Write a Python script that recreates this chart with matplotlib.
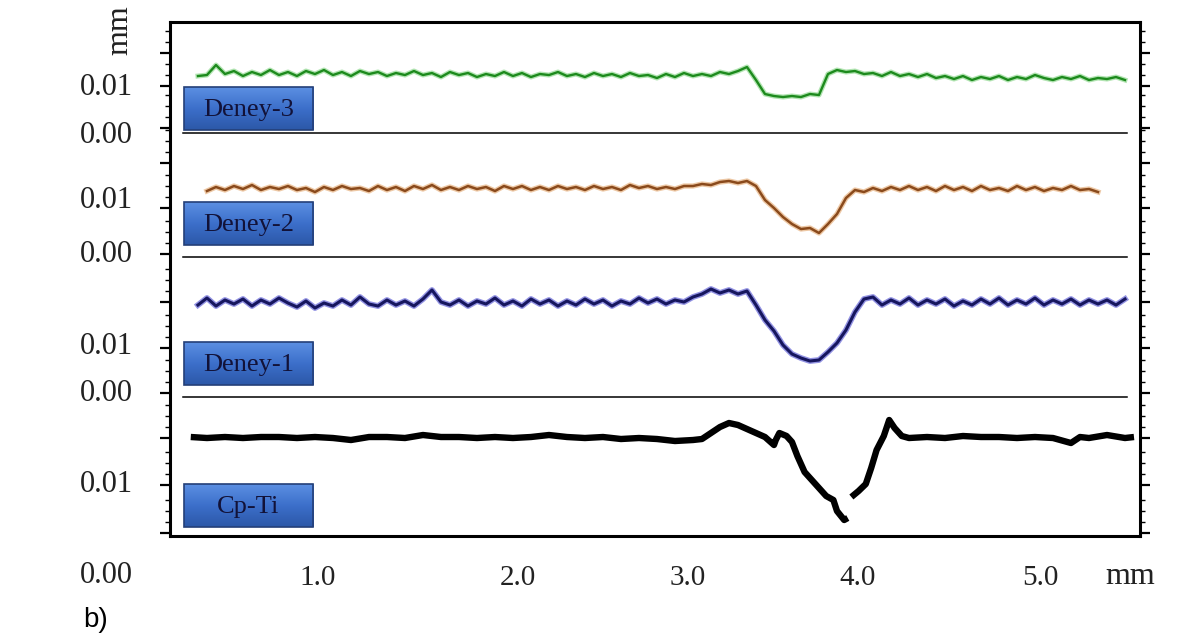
"""
Surface profiles of the wear tracks (Cp-Ti, Deney-1..3), stacked
"""

import numpy as np
import matplotlib
matplotlib.use("Agg")
import matplotlib.pyplot as plt
from matplotlib.patches import Rectangle

# shared x positions (mm) for the three coated samples
x_grid = [0.30, 0.35, 0.40, 0.45, 0.50, 0.55, 0.60, 0.65, 0.70, 0.75,
          0.80, 0.85, 0.90, 0.95, 1.00, 1.05, 1.10, 1.15, 1.20, 1.25,
          1.30, 1.35, 1.40, 1.45, 1.50, 1.55, 1.60, 1.65, 1.70, 1.75,
          1.80, 1.85, 1.90, 1.95, 2.00, 2.05, 2.10, 2.15, 2.20, 2.25,
          2.30, 2.35, 2.40, 2.45, 2.50, 2.55, 2.60, 2.65, 2.70, 2.75,
          2.80, 2.85, 2.90, 2.95, 3.00, 3.05, 3.10, 3.15, 3.20, 3.25,
          3.30, 3.35, 3.40, 3.45, 3.50, 3.55, 3.60, 3.65, 3.70, 3.75,
          3.80, 3.85, 3.90, 3.95, 4.00, 4.05, 4.10, 4.15, 4.20, 4.25,
          4.30, 4.35, 4.40, 4.45, 4.50, 4.55, 4.60, 4.65, 4.70, 4.75,
          4.80, 4.85, 4.90, 4.95, 5.00, 5.05, 5.10, 5.15, 5.20, 5.25,
          5.30, 5.35, 5.40, 5.45, 5.50, 5.55]

nan = float("nan")

# stacked profile heights (chart units)
deney3 = [nan, 4.60, 4.61, 4.71, 4.62, 4.65, 4.60, 4.64, 4.61, 4.66,
          4.61, 4.64, 4.60, 4.65, 4.62, 4.66, 4.61, 4.64, 4.60, 4.65,
          4.62, 4.64, 4.60, 4.63, 4.61, 4.65, 4.61, 4.63, 4.59, 4.64,
          4.61, 4.63, 4.59, 4.62, 4.60, 4.64, 4.60, 4.63, 4.59, 4.62,
          4.61, 4.64, 4.60, 4.62, 4.59, 4.63, 4.60, 4.62, 4.59, 4.63,
          4.60, 4.61, 4.58, 4.62, 4.59, 4.63, 4.60, 4.62, 4.60, 4.64,
          4.62, 4.65, 4.69, 4.56, 4.42, 4.40, 4.39, 4.40, 4.39, 4.42,
          4.41, 4.62, 4.66, 4.64, 4.65, 4.62, 4.63, 4.60, 4.64, 4.60,
          4.62, 4.59, 4.62, 4.58, 4.60, 4.57, 4.60, 4.56, 4.59, 4.57,
          4.60, 4.56, 4.59, 4.57, 4.61, 4.58, 4.56, 4.59, 4.57, 4.60,
          4.56, 4.58, 4.57, 4.59, 4.56, nan]

deney2 = [nan, nan, 3.45, 3.49, 3.46, 3.50, 3.47, 3.51, 3.46, 3.49,
          3.47, 3.50, 3.46, 3.48, 3.44, 3.49, 3.46, 3.50, 3.47, 3.48,
          3.45, 3.50, 3.46, 3.49, 3.45, 3.50, 3.47, 3.51, 3.46, 3.49,
          3.46, 3.50, 3.47, 3.49, 3.45, 3.50, 3.47, 3.50, 3.46, 3.49,
          3.46, 3.50, 3.47, 3.49, 3.46, 3.50, 3.47, 3.49, 3.46, 3.51,
          3.48, 3.50, 3.47, 3.49, 3.47, 3.50, 3.50, 3.52, 3.51, 3.54,
          3.55, 3.53, 3.55, 3.50, 3.36, 3.28, 3.19, 3.12, 3.07, 3.08,
          3.03, 3.12, 3.22, 3.38, 3.46, 3.44, 3.48, 3.45, 3.49, 3.46,
          3.50, 3.46, 3.49, 3.45, 3.50, 3.46, 3.49, 3.45, 3.50, 3.46,
          3.48, 3.45, 3.50, 3.46, 3.49, 3.45, 3.48, 3.46, 3.50, 3.46,
          3.47, 3.44, nan, nan, nan, nan]

deney1 = [nan, 2.31, 2.38, 2.30, 2.36, 2.32, 2.37, 2.30, 2.36, 2.32,
          2.38, 2.33, 2.29, 2.35, 2.28, 2.33, 2.30, 2.36, 2.31, 2.39,
          2.32, 2.30, 2.36, 2.31, 2.35, 2.30, 2.37, 2.46, 2.34, 2.31,
          2.36, 2.30, 2.35, 2.32, 2.38, 2.31, 2.35, 2.30, 2.37, 2.32,
          2.36, 2.30, 2.35, 2.31, 2.37, 2.32, 2.36, 2.30, 2.35, 2.32,
          2.38, 2.33, 2.37, 2.32, 2.36, 2.34, 2.39, 2.42, 2.47, 2.43,
          2.46, 2.42, 2.45, 2.31, 2.16, 2.05, 1.91, 1.82, 1.78, 1.75,
          1.76, 1.84, 1.93, 2.06, 2.24, 2.37, 2.39, 2.31, 2.36, 2.32,
          2.38, 2.31, 2.36, 2.32, 2.37, 2.30, 2.35, 2.31, 2.37, 2.32,
          2.38, 2.31, 2.36, 2.32, 2.38, 2.31, 2.36, 2.32, 2.37, 2.31,
          2.36, 2.32, 2.36, 2.31, 2.37, nan]

cpti_x = [0.31, 0.40, 0.50, 0.60, 0.70, 0.80, 0.90, 1.00, 1.10, 1.20,
          1.30, 1.40, 1.50, 1.60, 1.70, 1.80, 1.90, 2.00, 2.10, 2.20,
          2.30, 2.40, 2.50, 2.60, 2.70, 2.80, 2.90, 3.00, 3.10, 3.15,
          3.20, 3.25, 3.30, 3.35, 3.40, 3.45, 3.50, 3.55, 3.56, 3.58,
          3.62, 3.65, 3.68, 3.72, 3.76, 3.80, 3.84, 3.88, 3.90, 3.94,
          3.96, 3.97, 3.98, 4.02, 4.06, 4.09, 4.12, 4.16, 4.19, 4.22,
          4.26, 4.30, 4.40, 4.50, 4.60, 4.70, 4.80, 4.90, 5.00, 5.10,
          5.20, 5.25, 5.30, 5.40, 5.50, 5.55]
cpti = [0.99, 0.98, 0.99, 0.98, 0.99, 0.99, 0.98, 0.99, 0.98, 0.96,
        0.99, 0.99, 0.98, 1.01, 0.99, 0.99, 0.98, 0.99, 0.98, 0.99,
        1.01, 0.99, 0.98, 0.99, 0.97, 0.98, 0.97, 0.95, 0.96, 0.97,
        1.03, 1.09, 1.13, 1.11, 1.07, 1.03, 0.99, 0.91, 0.96, 1.03,
        1.00, 0.94, 0.80, 0.64, 0.56, 0.48, 0.40, 0.36, 0.25, 0.16,
        0.18, nan, 0.39, 0.45, 0.52, 0.68, 0.86, 1.00, 1.16, 1.08,
        1.00, 0.98, 0.99, 0.98, 1.00, 0.99, 0.99, 0.98, 0.99, 0.98,
        0.93, 0.99, 0.98, 1.01, 0.98, 0.99]

sample_names = ["Deney-3", "Deney-2", "Deney-1", "Cp-Ti"]
separators = [4.03, 2.79, 1.39]

ytick_text = ["0.01", "0.00", "0.01", "0.00", "0.01", "0.00", "0.01", "0.00"]
ytick_text_pos = [4.49, 4.01, 3.36, 2.82, 1.90, 1.43, 0.52, -0.39]
xtick_text = ["1.0", "2.0", "3.0", "4.0", "5.0"]
xtick_text_pos = [1.017, 2.128, 3.072, 4.017, 5.028]
major_ticks = [4.83, 4.50, 4.08, 3.73, 3.28, 2.82, 2.34, 1.88, 1.43, 0.98, 0.51, 0.03]

fig = plt.figure(figsize=(11.86, 6.42), dpi=100)
ax = fig.add_axes([0.1433, 0.1651, 0.8179, 0.8006])

serif = ["Liberation Serif", "DejaVu Serif"]

# traces: soft halo underneath, darker core on top
ax.plot(x_grid, deney3, color="#7fd27f", lw=3.6, alpha=0.6, zorder=3)
ax.plot(x_grid, deney3, color="#1d8a1d", lw=1.7, zorder=4)
ax.plot(x_grid, deney2, color="#e2a46a", lw=3.8, alpha=0.6, zorder=3)
ax.plot(x_grid, deney2, color="#8a4a1c", lw=1.8, zorder=4)
ax.plot(x_grid, deney1, color="#4a4ad0", lw=4.2, alpha=0.6, zorder=3)
ax.plot(x_grid, deney1, color="#16165e", lw=2.2, zorder=4)
ax.plot(cpti_x, cpti, color="black", lw=4.6, solid_capstyle="butt", zorder=4)

for s in separators:
    ax.plot([0.267, 5.511], [s, s], color="black", lw=1.1, zorder=2)

# blue label boxes
box_bottoms = [4.06, 2.91, 1.51, 0.09]
box_height = 0.43
grad = np.linspace(0, 1, 50).reshape(-1, 1)
cmap = matplotlib.colors.LinearSegmentedColormap.from_list(
    "btn", ["#2c58a8", "#3c6fca", "#5b8fe2"])
for name, b in zip(sample_names, box_bottoms):
    ax.imshow(grad, extent=[0.272, 0.989, b, b + box_height], origin="lower",
              cmap=cmap, aspect="auto", zorder=5)
    ax.add_patch(Rectangle((0.272, b), 0.717, box_height, fill=False,
                           edgecolor="#243f78", lw=1.2, zorder=6))
    ax.text(0.63, b + box_height / 2 - 0.01, name, ha="center", va="center",
            fontsize=19, color="#121238", family=serif, zorder=7)

ax.set_xlim(0.1944, 5.5833)
ax.set_ylim(0, 5.14)

for sp in ax.spines.values():
    sp.set_linewidth(2.2)

ax.set_xticks([])
ax.set_yticks(major_ticks)
ax.set_yticks([t + d for t in major_ticks for d in (0.11, 0.22, 0.33)
               if 0 < t + d < 5.14], minor=True)
ax.tick_params(axis="y", which="major", direction="out", length=7, width=1.6,
               left=True, right=True, labelleft=False, labelright=False)
ax.tick_params(axis="y", which="minor", direction="out", length=3.5, width=1.0,
               left=True, right=True)

for t, p in zip(ytick_text, ytick_text_pos):
    ax.text(-0.011, p, t, ha="right", va="center", fontsize=22,
            family=serif, color="#222222", clip_on=False)
for t, p in zip(xtick_text, xtick_text_pos):
    ax.text(p, -0.42, t, ha="center", va="center", fontsize=21,
            family=serif, color="#222222", clip_on=False)

fig.text(1130 / 1186, 1 - 576 / 642, "mm", ha="center", va="center",
         fontsize=23, family=serif, color="#222222")
fig.text(120 / 1186, 1 - 30 / 642, "mm", ha="center", va="center",
         fontsize=23, family=serif, color="#222222", rotation=90)
fig.text(96 / 1186, 1 - 620 / 642, "b)", ha="center", va="center",
         fontsize=20, family=["Liberation Sans", "DejaVu Sans"], color="black")

fig.savefig("out.png", dpi=100)
